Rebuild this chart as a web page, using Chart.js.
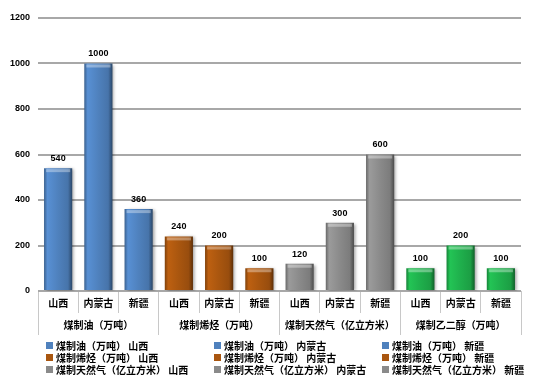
<!DOCTYPE html>
<html>
<head>
<meta charset="utf-8">
<script src="https://cdn.jsdelivr.net/npm/chart.js@4.4.1/dist/chart.umd.min.js"></script>
<style>
  body { margin: 0; background: #fff; }
  #wrap { position: relative; width: 550px; height: 388px; }
  #legend {
    position: absolute; left: 46px; top: 339px;
    display: grid; grid-template-columns: 168px 168px 168px; grid-auto-rows: 12px;
    height: 36px; overflow: hidden;
    font: bold 10px 'Noto Sans CJK SC', sans-serif; color: #000;
  }
  .item { display: flex; align-items: center; white-space: nowrap; }
  .box { width: 7px; height: 7px; margin-right: 3px; flex: none; }
</style>
</head>
<body>
<div id="wrap"><canvas id="chart"></canvas><div id="legend"></div></div>
<script>
const groups = ['煤制油（万吨）', '煤制烯烃（万吨）', '煤制天然气（亿立方米）', '煤制乙二醇（万吨）']
const regions = ['山西', '内蒙古', '新疆']
const coalOil = [540, 1000, 360]
const coalOlefin = [240, 200, 100]
const coalGas = [120, 300, 600]
const coalGlycol = [100, 200, 100]
const yTicks = [0, 200, 400, 600, 800, 1000, 1200]
const groupColors = ['#4f81bd', '#a9560f', '#8a8a8a', '#1faf4c']

const cjk = "'Noto Sans CJK SC', sans-serif"
const num = "'Liberation Sans', Arial, sans-serif"

function shade(hex, f) {
  const n = parseInt(hex.slice(1), 16)
  const c = [n >> 16, (n >> 8) & 255, n & 255].map(v => Math.max(0, Math.min(255, Math.round(v * f))))
  return `rgb(${c[0]},${c[1]},${c[2]})`
}

function barFill(ctx) {
  const chart = ctx.chart
  const base = groupColors[Math.floor(ctx.datasetIndex / 3)]
  if (!chart.chartArea || ctx.type !== 'data') return base
  const xs = chart.scales.x
  const x = xs.getPixelForValue(ctx.dataIndex)
  const half = xs.width / 12 * 0.7 / 2
  const g = chart.ctx.createLinearGradient(x - half, 0, x + half, 0)
  g.addColorStop(0, shade(base, 0.75))
  g.addColorStop(0.12, shade(base, 1.12))
  g.addColorStop(0.5, base)
  g.addColorStop(0.85, shade(base, 0.9))
  g.addColorStop(1, shade(base, 0.55))
  return g
}

const labels = []
groups.forEach(() => regions.forEach(r => labels.push(r)))

const seriesValues = [coalOil, coalOlefin, coalGas, coalGlycol]
const datasets = []
groups.forEach((g, gi) => {
  regions.forEach((r, ri) => {
    const data = Array(labels.length).fill(null)
    data[gi * 3 + ri] = seriesValues[gi][ri]
    datasets.push({
      label: g + ' ' + r,
      data: data,
      backgroundColor: barFill,
      borderWidth: 0,
      categoryPercentage: 0.7,
      barPercentage: 1
    })
  })
})

const barDecor = {
  id: 'barDecor',
  beforeDatasetsDraw(chart) {
    const ctx = chart.ctx
    ctx.save()
    ctx.shadowColor = 'rgba(0,0,0,0.35)'
    ctx.shadowOffsetX = 2
    ctx.shadowOffsetY = 1
    ctx.shadowBlur = 3
  },
  afterDatasetsDraw(chart) {
    const ctx = chart.ctx
    ctx.restore()
    ctx.save()
    // light band at the top of each bar
    chart.data.datasets.forEach((ds, i) => {
      chart.getDatasetMeta(i).data.forEach((bar, j) => {
        if (ds.data[j] == null) return
        ctx.fillStyle = 'rgba(255,255,255,0.35)'
        ctx.fillRect(bar.x - bar.width / 2 + 2, bar.y + 1, bar.width - 4, 3)
      })
    })
    ctx.font = 'bold 9px ' + num
    ctx.fillStyle = '#000'
    ctx.textAlign = 'center'
    ctx.textBaseline = 'bottom'
    chart.data.datasets.forEach((ds, i) => {
      chart.getDatasetMeta(i).data.forEach((bar, j) => {
        if (ds.data[j] == null) return
        ctx.fillText(ds.data[j], bar.x, bar.y - 5)
      })
    })
    ctx.restore()
  }
}

const axisTick = { family: cjk, size: 10, weight: 'bold' }

const chart = new Chart(document.getElementById('chart'), {
  type: 'bar',
  data: { labels: labels, datasets: datasets },
  plugins: [barDecor],
  options: {
    responsive: true,
    maintainAspectRatio: false,
    animation: false,
    layout: { padding: { top: 18, right: 29, bottom: 53, left: 0 } },
    plugins: {
      legend: { display: false },
      tooltip: { enabled: false }
    },
    scales: {
      x: {
        stacked: true,
        offset: true,
        weight: 0,
        grid: { offset: true, drawOnChartArea: false, tickLength: 22, color: '#c8c8c8' },
        border: { display: false },
        ticks: { padding: -16, color: '#000', font: axisTick, maxRotation: 0, autoSkip: false },
        afterFit(s) { s.height = 22 }
      },
      x2: {
        type: 'category',
        labels: groups,
        position: 'bottom',
        offset: true,
        weight: 1,
        grid: { offset: true, drawOnChartArea: false, tickLength: 22, color: '#c8c8c8' },
        border: { display: false },
        ticks: { padding: -16, color: '#000', font: axisTick, maxRotation: 0, autoSkip: false },
        afterFit(s) { s.height = 22 }
      },
      y: {
        stacked: true,
        min: 0,
        max: 1200,
        afterBuildTicks(s) { s.ticks = yTicks.map(v => ({ value: v })) },
        grid: { color: '#a8a8a8', lineWidth: 2, drawTicks: false },
        border: { display: false },
        ticks: {
          padding: 8, color: '#000', font: { family: num, size: 9, weight: 'bold' },
          callback: v => String(v)
        },
        afterFit(s) { s.width = 38 }
      }
    }
  }
})

const legendEl = document.getElementById('legend')
chart.data.datasets.forEach((ds, i) => {
  const item = document.createElement('div')
  item.className = 'item'
  const box = document.createElement('span')
  box.className = 'box'
  box.style.background = groupColors[Math.floor(i / 3)]
  const text = document.createElement('span')
  text.textContent = ds.label
  item.appendChild(box)
  item.appendChild(text)
  legendEl.appendChild(item)
})
</script>
</body>
</html>
